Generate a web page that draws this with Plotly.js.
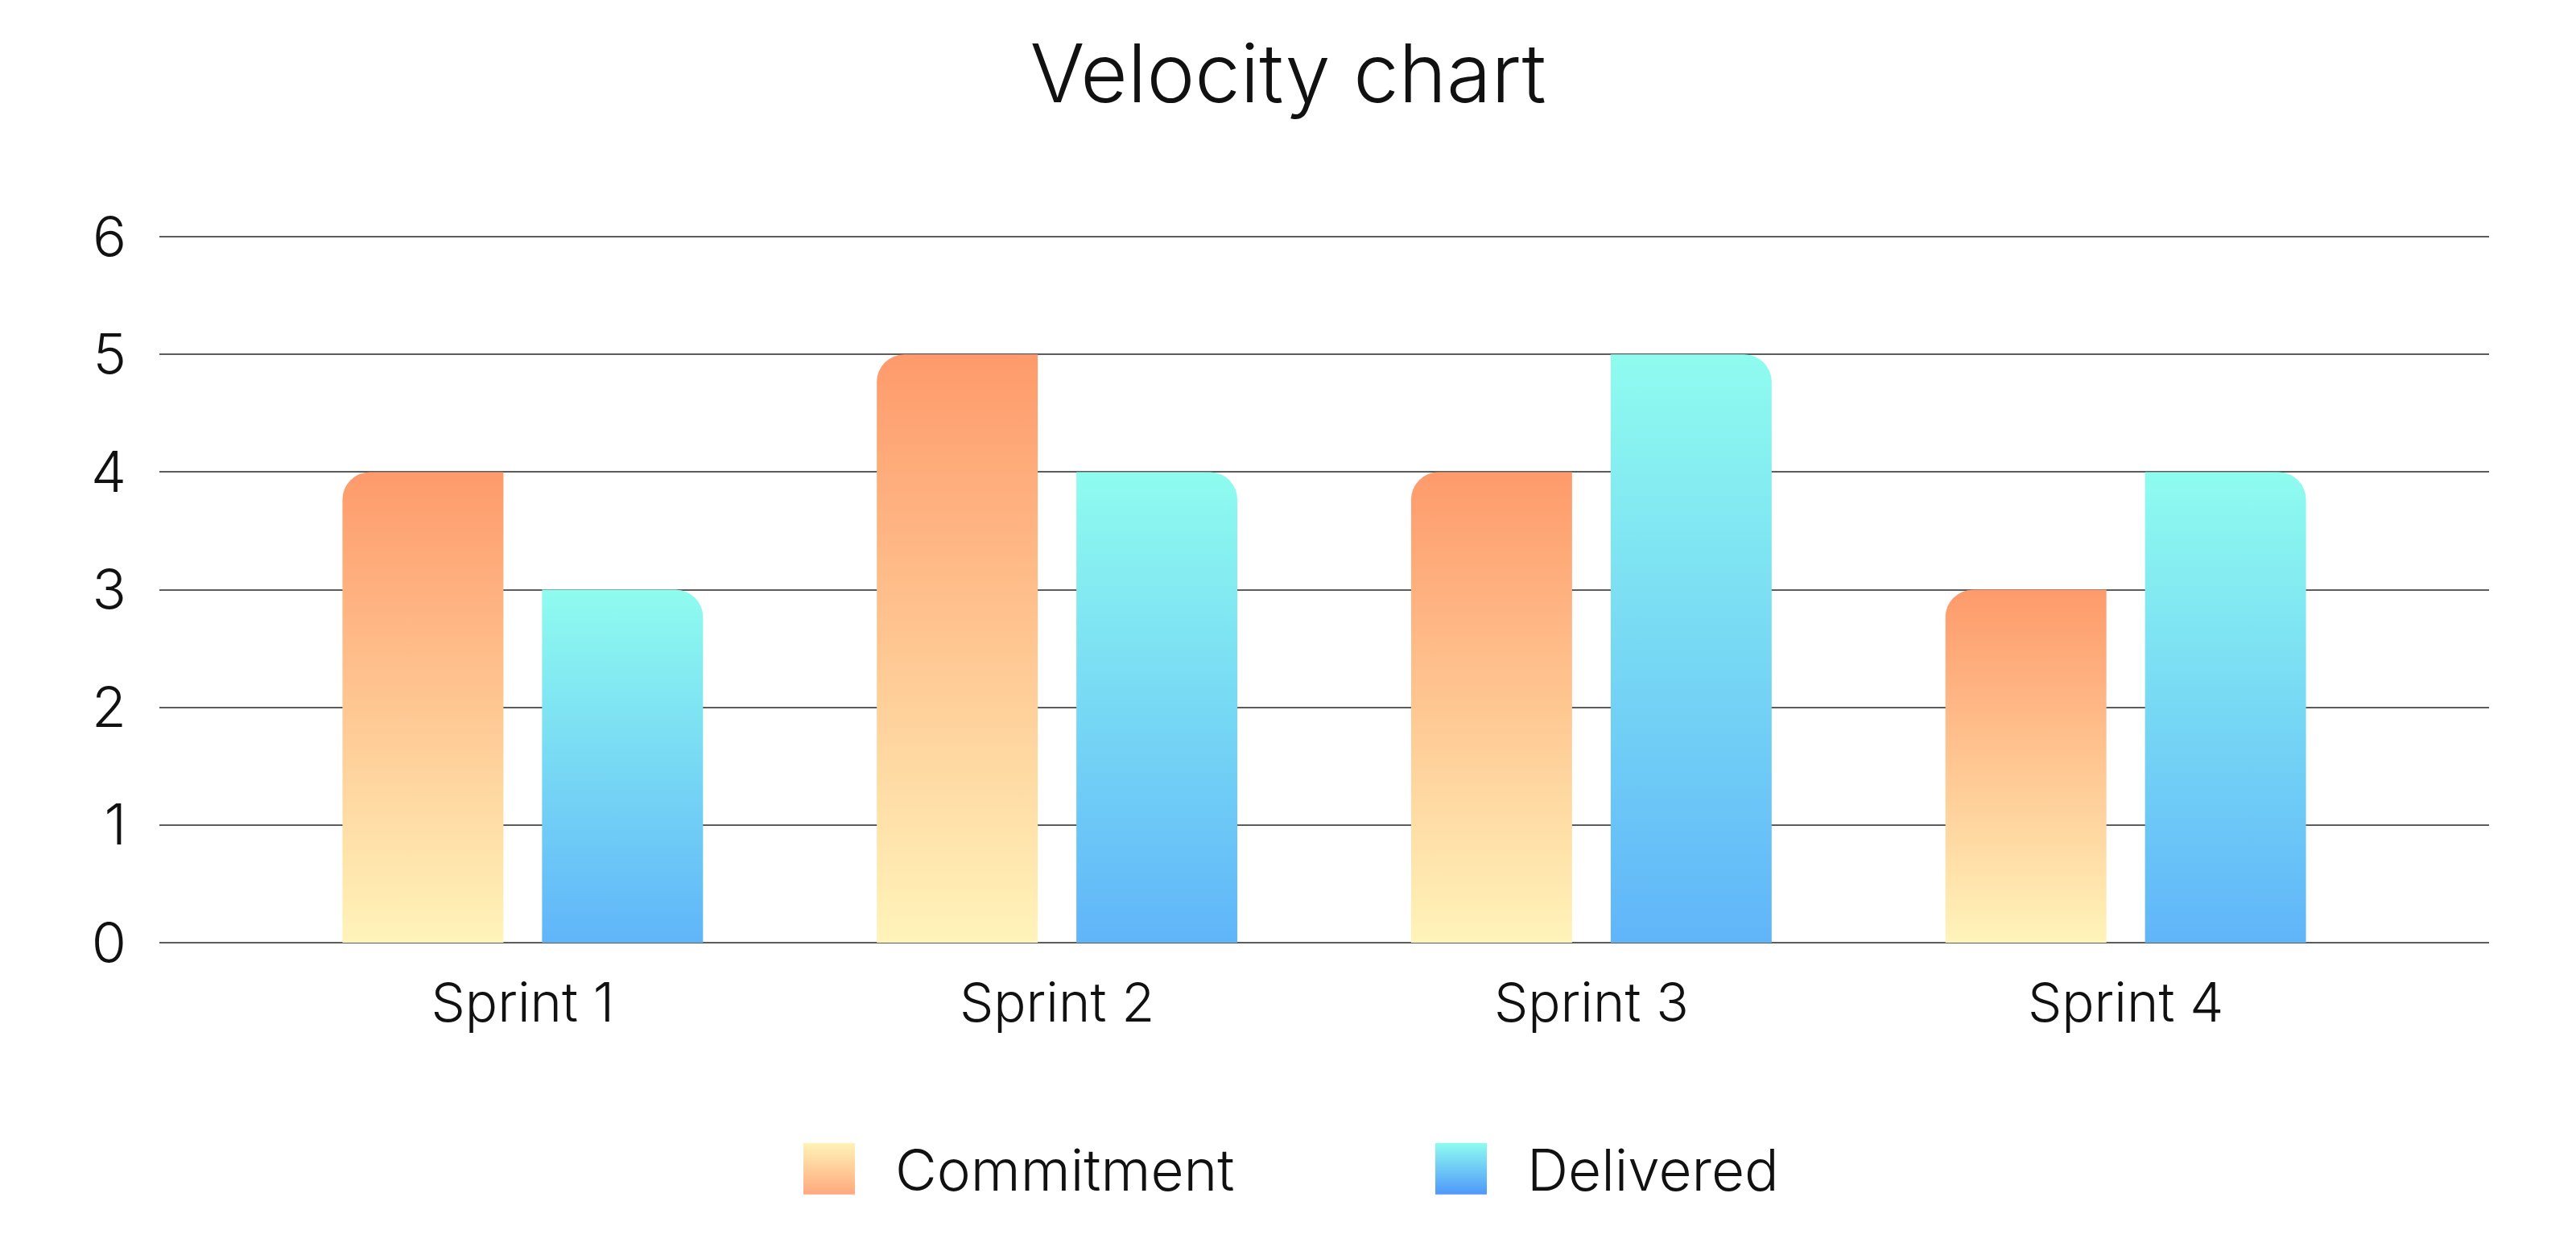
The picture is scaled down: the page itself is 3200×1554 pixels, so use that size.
<!DOCTYPE html>
<html>
<head>
<meta charset="utf-8">
<script src="https://cdn.plot.ly/plotly-3.0.1.min.js"></script>
<style>
  html, body { margin: 0; padding: 0; background: #ffffff; }
  #chart { width: 3200px; height: 1554px; }
</style>
</head>
<body>
<div id="chart"></div>
<script>
// Sprint velocity: committed vs delivered story points
const sprints = ['Sprint 1', 'Sprint 2', 'Sprint 3', 'Sprint 4'];
const commitment = [4, 5, 4, 3];
const delivered = [3, 4, 5, 4];
const seriesNames = ['Commitment', 'Delivered'];
const yTickValues = [0, 1, 2, 3, 4, 5, 6];

const FONT = 'Inter, "Noto Sans", "DejaVu Sans", sans-serif';
const TEXT = '#111111';
const GRID = '#5c5c5c';

const traces = [
  {
    type: 'bar', name: seriesNames[0], x: sprints, y: commitment,
    marker: { color: '#fdb98a', line: { width: 0 } },
    hoverinfo: 'skip'
  },
  {
    type: 'bar', name: seriesNames[1], x: sprints, y: delivered,
    marker: { color: '#7ddcf3', line: { width: 0 } },
    hoverinfo: 'skip'
  }
];

const layout = {
  width: 3200, height: 1554,
  paper_bgcolor: '#ffffff', plot_bgcolor: '#ffffff',
  margin: { l: 198, r: 108, t: 292, b: 383, pad: 0 },
  font: { family: FONT, color: TEXT, size: 68, weight: 300 },
  title: {
    text: 'Velocity chart',
    font: { family: FONT, size: 101, color: TEXT, weight: 300 },
    x: 0.5, xref: 'container', xanchor: 'center',
    y: 1 - 92 / 1554, yref: 'container', yanchor: 'middle'
  },
  barmode: 'group',
  bargap: 0.253,
  bargroupgap: 0.1935,
  xaxis: {
    type: 'category',
    range: [-0.68, 3.68],
    showgrid: false, zeroline: false, showline: false,
    ticks: '', ticklabelstandoff: 30,
    tickfont: { family: FONT, size: 67, color: TEXT, weight: 300 },
    automargin: false, fixedrange: true
  },
  yaxis: {
    range: [0, 6.015],
    tickmode: 'array', tickvals: yTickValues, ticktext: yTickValues.map(String),
    showgrid: true, gridcolor: GRID, gridwidth: 2,
    zeroline: true, zerolinecolor: GRID, zerolinewidth: 2,
    showline: false, ticks: '', ticklabelstandoff: 40,
    tickfont: { family: FONT, size: 70, color: TEXT, weight: 300 },
    automargin: false, fixedrange: true
  },
  showlegend: true,
  legend: {
    orientation: 'h',
    xref: 'container', yref: 'container',
    x: 948 / 3200, xanchor: 'left',
    y: 1 - 1452 / 1554, yanchor: 'middle',
    itemwidth: 154,
    entrywidth: 616, entrywidthmode: 'pixels',
    font: { family: FONT, size: 71, color: TEXT, weight: 300 },
    bgcolor: 'rgba(0,0,0,0)', borderwidth: 0,
    itemclick: false, itemdoubleclick: false
  }
};

// vertical gradients: [id, topColor, bottomColor]
const gradients = [
  ['grad-commit-bar', '#fe9a6b', '#fff4ba'],
  ['grad-deliv-bar', '#8ffcef', '#60b5f9'],
  ['grad-commit-key', '#fff3b8', '#ffa97d'],
  ['grad-deliv-key', '#8ffcef', '#4f98fb']
];
const CORNER = 34;

function addGradients(svg) {
  const ns = 'http://www.w3.org/2000/svg';
  let defs = svg.querySelector('defs');
  if (!defs) { defs = document.createElementNS(ns, 'defs'); svg.insertBefore(defs, svg.firstChild); }
  gradients.forEach(([id, top, bottom]) => {
    const g = document.createElementNS(ns, 'linearGradient');
    g.setAttribute('id', id);
    g.setAttribute('x1', '0'); g.setAttribute('y1', '0');
    g.setAttribute('x2', '0'); g.setAttribute('y2', '1');
    [[0, top], [1, bottom]].forEach(([o, c]) => {
      const s = document.createElementNS(ns, 'stop');
      s.setAttribute('offset', String(o));
      s.setAttribute('stop-color', c);
      g.appendChild(s);
    });
    defs.appendChild(g);
  });
}

// Commitment bars round the top-left corner, Delivered bars the top-right one
function shapeBars(gd) {
  const barTraces = gd.querySelectorAll('.barlayer .trace');
  barTraces.forEach((tr, i) => {
    tr.querySelectorAll('.point path').forEach(p => {
      const b = p.getBBox();
      const x0 = b.x, x1 = b.x + b.width, yt = b.y, yb = b.y + b.height;
      const r = Math.min(CORNER, b.width / 2, b.height);
      let d;
      if (i === 0) {
        d = `M${x0},${yb}V${yt + r}A${r},${r} 0 0 1 ${x0 + r},${yt}H${x1}V${yb}Z`;
      } else {
        d = `M${x0},${yb}V${yt}H${x1 - r}A${r},${r} 0 0 1 ${x1},${yt + r}V${yb}Z`;
      }
      p.setAttribute('d', d);
      p.style.fill = `url(#${i === 0 ? 'grad-commit-bar' : 'grad-deliv-bar'})`;
      p.style.stroke = 'none';
    });
  });
}

function styleLegend(gd) {
  const items = gd.querySelectorAll('.legend .traces');
  items.forEach((it, i) => {
    it.querySelectorAll('.legendpoints path').forEach(p => {
      p.setAttribute('d', 'M32,32H-32V-32H32Z');
      p.style.fill = `url(#${i === 0 ? 'grad-commit-key' : 'grad-deliv-key'})`;
      p.style.stroke = 'none';
    });
  });
}

Plotly.newPlot('chart', traces, layout, { displayModeBar: false, staticPlot: true }).then(gd => {
  const svg = gd.querySelector('svg.main-svg');
  addGradients(svg);
  shapeBars(gd);
  styleLegend(gd);
});
</script>
</body>
</html>
